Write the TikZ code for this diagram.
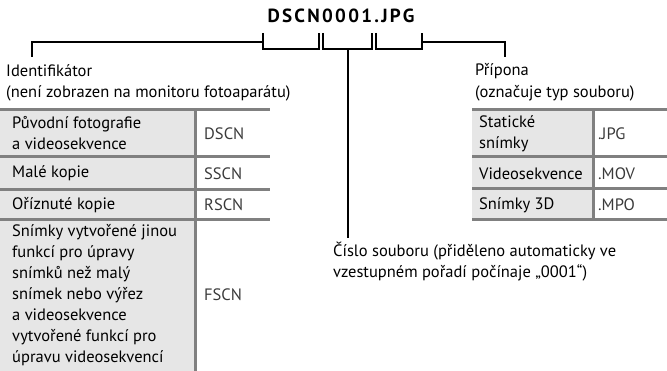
\documentclass[tikz,border=0pt]{standalone}
\usepackage{fontspec}
\setmainfont{PT Sans}
\newfontfamily\titlefont[LetterSpace=12]{PT Sans}
\definecolor{cellgray}{HTML}{E6E6E6}
\definecolor{rulegray}{HTML}{808080}
\definecolor{codegray}{HTML}{3A3A3A}
\tikzset{
  body/.style={inner sep=0pt, anchor=west, align=left, font=\fontsize{16.5}{21}\selectfont},
  codetxt/.style={body, text=codegray},
  brk/.style={line width=2pt, black},
  rulev/.style={line width=3pt, rulegray},
}
\begin{document}
\begin{tikzpicture}[x=1pt,y=-1pt]
\useasboundingbox (0,0) rectangle (667,371);
% fills
\fill[cellgray] (0,110) rectangle (195,371);
\fill[cellgray] (472,110) rectangle (593,220);
% title
\node[inner sep=0pt, font=\titlefont\bfseries\fontsize{19}{22}\selectfont] (title) at (341,16) {DSCN0001.JPG};
% bracket coordinates
\coordinate (b1l) at (263,33); \coordinate (b1r) at (319,33);
\coordinate (b2l) at (323,33); \coordinate (b2r) at (372,33);
\coordinate (b3l) at (376,33); \coordinate (b3r) at (422,33);
\coordinate (b2m) at (347.5,49);
\coordinate (lout) at (32,42); \coordinate (lend) at (32,57);
\coordinate (rout) at (505,42); \coordinate (rend) at (505,57);
\coordinate (nend) at (347.5,238);
\draw[brk] (b1l) -- ++(0,16) -| (b1r);
\draw[brk] (b2l) -- ++(0,16) -| (b2r);
\draw[brk] (b3l) -- ++(0,16) -| (b3r);
\draw[brk] (b1l |- lout) -- (lout) -- (lend);
\draw[brk] (b3r |- rout) -- (rout) -- (rend);
\draw[brk] (b2m) -- (nend);
% headings
\node[body] (ident) at (6,71) {Identifikátor};
\node[body] (identsub) at (6,93) {(není zobrazen na monitoru fotoaparátu)};
\node[body] (pripona) at (475,71) {Přípona};
\node[body] (priponasub) at (475,93) {(označuje typ souboru)};
\node[body, anchor=north west] (cislo) at (333,242) {Číslo souboru (přiděleno automaticky ve\\vzestupném pořadí počínaje „0001“)};
% left table text
\node[body] (l1) at (12,133.5) {Původní fotografie\\a videosekvence};
\node[codetxt] (c1) at (204,133.5) {DSCN};
\node[body] (l2) at (12,173.5) {Malé kopie};
\node[codetxt] (c2) at (204,173.5) {SSCN};
\node[body] (l3) at (12,205) {Oříznuté kopie};
\node[codetxt] (c3) at (204,205) {RSCN};
\node[body] (l4) at (12,295) {Snímky vytvořené jinou\\funkcí pro úpravy\\snímků než malý\\snímek nebo výřez\\a videosekvence\\vytvořené funkcí pro\\úpravu videosekvencí};
\node[codetxt] (c4) at (204,295) {FSCN};
% right table text
\node[body] (r1) at (479,133.5) {Statické\\snímky};
\node[codetxt] (e1) at (598,133.5) {.JPG};
\node[body] (r2) at (479,173.5) {Videosekvence};
\node[codetxt] (e2) at (598,173.5) {.MOV};
\node[body] (r3) at (479,205) {Snímky 3D};
\node[codetxt] (e3) at (598,205) {.MPO};
% rules
\draw[rulev] (0,110) -- (270,110);
\draw[rulev] (0,157) -- (270,157);
\draw[rulev] (0,190) -- (270,190);
\draw[rulev] (0,220) -- (270,220);
\draw[rulev] (195,110) -- (195,371);
\draw[rulev] (472,110) -- (667,110);
\draw[rulev] (472,157) -- (667,157);
\draw[rulev] (472,189) -- (667,189);
\draw[rulev] (472,220) -- (667,220);
\draw[rulev] (593,110) -- (593,220);
\end{tikzpicture}
\end{document}
